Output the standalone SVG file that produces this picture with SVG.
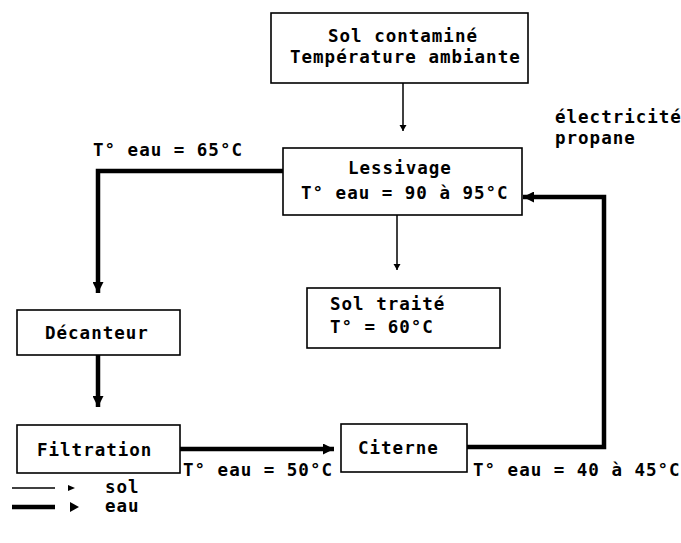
<svg xmlns="http://www.w3.org/2000/svg" width="681" height="543" viewBox="0 0 681 543">
<style>
  .box { fill: #fff; stroke: #000; stroke-width: 1.6; }
  .t { font-family: "DejaVu Sans Mono", "Liberation Mono", monospace; font-weight: bold; font-size: 17.5px; letter-spacing: 1.0px; fill: #000; }
  .sol { stroke: #000; stroke-width: 1.5; fill: none; }
  .eau { stroke: #000; stroke-width: 4.5; fill: none; }
</style>
<defs>
  <marker id="aSol" markerUnits="userSpaceOnUse" markerWidth="6" markerHeight="8" refX="6" refY="4" orient="auto">
    <path d="M0,0.5 L6,4 L0,7.5 z" fill="#000"/>
  </marker>
  <marker id="aEau" markerUnits="userSpaceOnUse" markerWidth="11" markerHeight="11" refX="11" refY="5.5" orient="auto">
    <path d="M0,0 L11,5.5 L0,11 z" fill="#000"/>
  </marker>
</defs>
<rect width="681" height="543" fill="#fff"/>

<g id="connectors">
  <line class="sol" x1="403" y1="83" x2="403" y2="131" marker-end="url(#aSol)"/>
  <line class="sol" x1="397" y1="215" x2="397" y2="270" marker-end="url(#aSol)"/>
  <polyline class="eau" points="283,171 98,171 98,293" marker-end="url(#aEau)"/>
  <line class="eau" x1="98" y1="355" x2="98" y2="407" marker-end="url(#aEau)"/>
  <line class="eau" x1="180" y1="449" x2="334" y2="449" marker-end="url(#aEau)"/>
  <polyline class="eau" points="467,447 604,447 604,197 523,197" marker-end="url(#aEau)"/>
  <text class="t" x="93" y="156">T° eau = 65°C</text>
  <text class="t" x="555" y="123">électricité</text>
  <text class="t" x="555" y="144">propane</text>
  <text class="t" x="183" y="476">T° eau = 50°C</text>
  <text class="t" x="473" y="476">T° eau = 40 à 45°C</text>
</g>

<g id="sol-contamine">
  <rect class="box" x="271" y="13" width="257" height="70"/>
  <text class="t" x="328" y="42">Sol contaminé</text>
  <text class="t" x="290" y="63">Température ambiante</text>
</g>

<g id="lessivage">
  <rect class="box" x="283" y="148" width="239" height="67"/>
  <text class="t" x="348" y="174">Lessivage</text>
  <text class="t" x="301" y="199">T° eau = 90 à 95°C</text>
</g>

<g id="sol-traite">
  <rect class="box" x="307" y="288" width="193" height="60"/>
  <text class="t" x="330" y="310">Sol traité</text>
  <text class="t" x="330" y="333">T° = 60°C</text>
</g>

<g id="decanteur">
  <rect class="box" x="17" y="310" width="163" height="45"/>
  <text class="t" x="45" y="339">Décanteur</text>
</g>

<g id="filtration">
  <rect class="box" x="17" y="425" width="163" height="48"/>
  <text class="t" x="37" y="456">Filtration</text>
</g>

<g id="citerne">
  <rect class="box" x="341" y="424" width="126" height="48"/>
  <text class="t" x="358" y="454">Citerne</text>
</g>

<g id="legend">
  <line class="sol" x1="12" y1="488" x2="55" y2="488"/>
  <path d="M68,485 L75,488 L68,491 z" fill="#000"/>
  <line x1="68" y1="488" x2="70" y2="488" stroke="#000" stroke-width="1.5"/>
  <text class="t" x="105" y="493">sol</text>
  <line class="eau" x1="12" y1="507" x2="55" y2="507"/>
  <path d="M70,502 L79,507 L70,512 z" fill="#000"/>
  <text class="t" x="105" y="512">eau</text>
</g>
</svg>
